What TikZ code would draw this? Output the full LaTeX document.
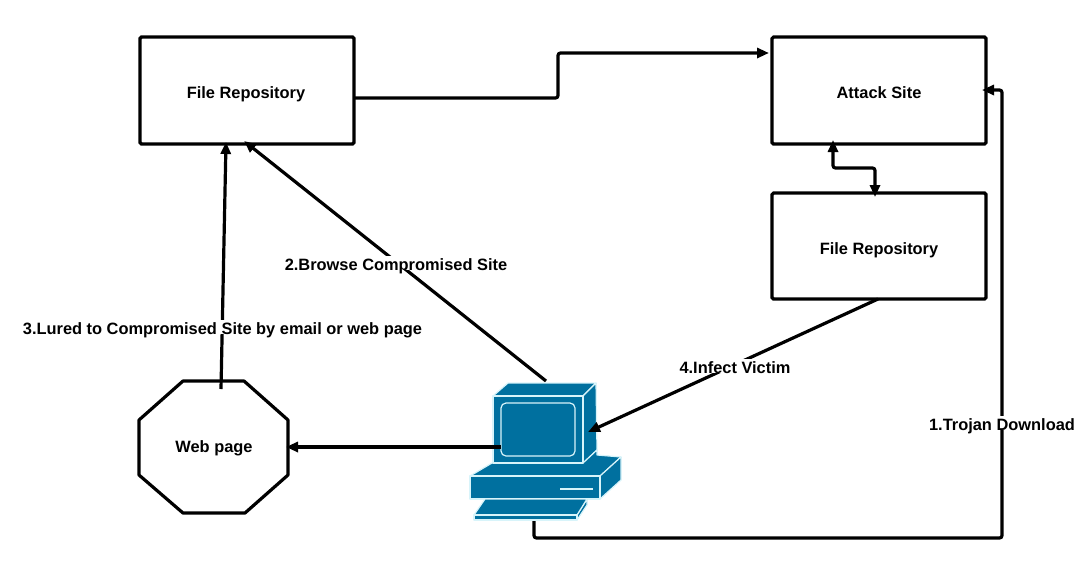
\documentclass[tikz,border=0pt]{standalone}
\usepackage{fontspec}
\setmainfont{Liberation Sans}
\usetikzlibrary{arrows.meta,calc}
\definecolor{pcblue}{HTML}{00709F}
\definecolor{pcline}{HTML}{D8F4FA}
\tikzset{
  x=1pt,y=-1pt,
  box/.style={draw=black,line width=3.2pt,rounded corners=1.5pt,fill=none},
  lbl/.style={font=\bfseries\fontsize{16.4}{18}\selectfont,text=black,fill=white,inner sep=0pt,anchor=base,text height=14pt,text depth=-1.5pt},
  conn/.style={draw=black,line width=3.2pt,rounded corners=2.5pt,-{Triangle[length=12pt,width=10pt]}},
  connb/.style={conn,{Triangle[length=12pt,width=10pt]}-{Triangle[length=12pt,width=10pt]}},
  pcface/.style={fill=pcblue,draw=pcline,line width=1.2pt,line join=round},
}
\begin{document}
\begin{tikzpicture}
\useasboundingbox (0,0) rectangle (1081,560);
% boxes
\draw[box] (140,37) rectangle (354,144);
\draw[box] (772,37) rectangle (986,144);
\draw[box] (772,193) rectangle (986,299);
\draw[line width=3.2pt,line join=round] (183,381) -- (244,381) -- (288,420) -- (288,475) -- (245,513) -- (183,513) -- (139,475) -- (139,420) -- cycle;
% anchors
\coordinate (repoE) at (354,98);
\coordinate (attackW) at (769,53);
\coordinate (repoS) at (244,141);
\coordinate (repoS2) at (226,142);
\coordinate (webN) at (221,389);
\coordinate (webE) at (286,447);
\coordinate (attackS) at (833,140);
\coordinate (fileN) at (875,197);
\coordinate (fileS) at (878,299);
\coordinate (attackE) at (982,90);
\coordinate (pcN) at (546,381);
\coordinate (pcW) at (501,447);
\coordinate (pcE) at (588,432);
\coordinate (pcS) at (534,521);
% connectors
\draw[conn] (repoE) -- (558,98) -- (558,53) -- (attackW);
\draw[conn] (pcN) -- (repoS);
\draw[conn] (webN) -- (repoS2);
\draw[connb] (attackS) -- (833,168) -- (875,168) -- (fileN);
% computer
\draw[pcface] (493,396) -- (508,383) -- (596,383) -- (583,396) -- cycle;
\draw[pcface] (583,396) -- (596,383) -- (597,450) -- (583,463) -- cycle;
\draw[pcface] (492,463) -- (583,463) -- (597,450) -- (597,455) -- (621,457) -- (600,476) -- (470,476) -- cycle;
\draw[pcface] (493,396) rectangle (583,463);
\draw[pcface,rounded corners=5pt] (501,403) rectangle (575,456);
\draw[pcface] (600,476) -- (621,457) -- (621,480) -- (600,499) -- cycle;
\draw[pcface] (470,476) rectangle (600,499);
\draw[draw=pcline,line width=1.6pt] (560,489) -- (593,489);
\draw[pcface] (587,499) -- (587,505) -- (577,520) -- (577,515) -- cycle;
\draw[pcface] (485,499) -- (587,499) -- (577,515) -- (474,515) -- cycle;
\draw[pcface] (474,515) rectangle (577,520);
% connectors over the computer
\draw[conn] (pcW) -- (webE);
\draw[conn] (fileS) -- (pcE);
\draw[conn] (pcS) -- (534,538) -- (1002,538) -- (1002,90) -- (attackE);
% labels
\node[lbl] (t1) at (246,98) {File Repository};
\node[lbl] (t2) at (879,98) {Attack Site};
\node[lbl] (t3) at (879,254.5) {File Repository};
\node[lbl] (t4) at (214,452) {Web page};
\node[lbl] (t5) at (396,270) {2.Browse Compromised Site};
\node[lbl] (t6) at (222.5,334) {3.Lured to Compromised Site by email or web page};
\node[lbl] (t7) at (735,373) {4.Infect Victim};
\node[lbl] (t8) at (1002,430) {1.Trojan Download};
\end{tikzpicture}
\end{document}
